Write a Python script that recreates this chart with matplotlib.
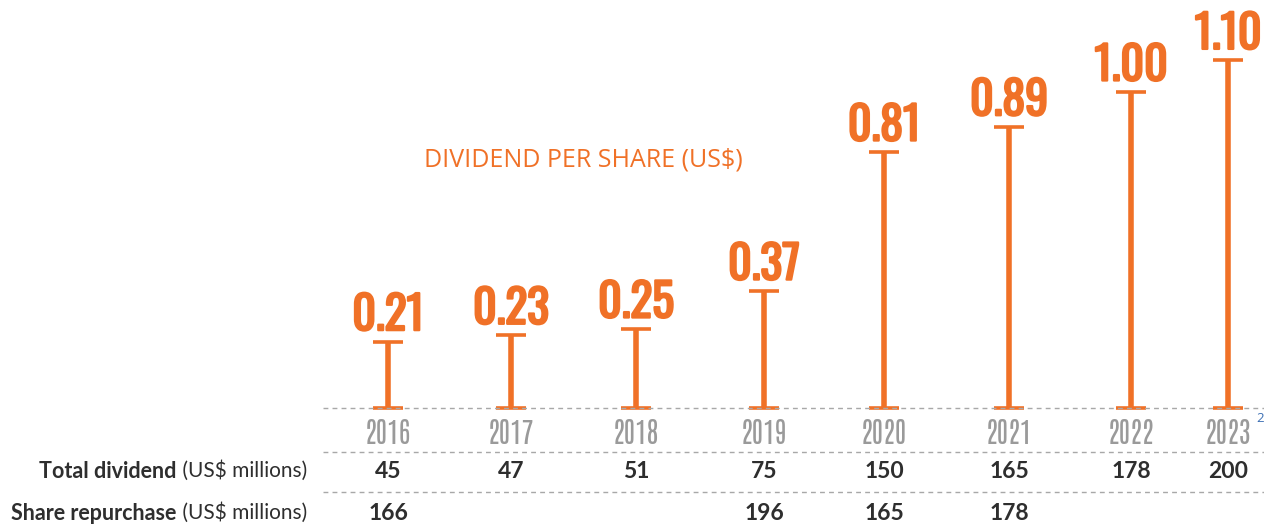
import matplotlib
matplotlib.use("Agg")
import matplotlib.pyplot as plt
import matplotlib.patheffects as pe

# Data
years = ["2016", "2017", "2018", "2019", "2020", "2021", "2022", "2023"]
dividend_per_share = [0.21, 0.23, 0.25, 0.37, 0.81, 0.89, 1.00, 1.10]
total_dividend = ["45", "47", "51", "75", "150", "165", "178", "200"]
share_repurchase = ["166", "", "", "196", "165", "178", "", ""]

# Layout (pixel columns and rows on a 1264 x 526 canvas)
W, H = 1264, 526
col_x = [388, 511, 636, 764, 884, 1009, 1131, 1228]
baseline_px = 408          # from top
px_per_unit = 316

ORANGE = "#F07127"
GRAY_LINE = "#A8A8A8"
YEAR_GRAY = "#9A9A9A"
DARK = "#2E2E2E"

fig = plt.figure(figsize=(W / 100, H / 100), dpi=100)
ax = fig.add_axes([0, 0, 1, 1])
ax.set_xlim(0, W)
base_from_bottom = H - baseline_px
ax.set_ylim(-base_from_bottom / px_per_unit, baseline_px / px_per_unit)
ax.axis("off")

# Bars drawn as capped vertical lines
ax.errorbar(col_x, [v / 2 for v in dividend_per_share],
            yerr=[v / 2 for v in dividend_per_share], fmt="none",
            ecolor=ORANGE, elinewidth=4.0, capsize=11, capthick=2.6, zorder=3)

num_font = dict(family=["Oswald", "DejaVu Sans"])
bold_fx = [pe.withStroke(linewidth=1.6, foreground=ORANGE)]
for x, v in zip(col_x, dividend_per_share):
    ax.annotate(f"{v:.2f}", (x, v), xytext=(0, 2.5), textcoords="offset points",
                ha="center", va="bottom", fontsize=33, color=ORANGE,
                path_effects=bold_fx, **num_font)

# Title
ax.text(583, (H - 160) / px_per_unit - base_from_bottom / px_per_unit,
        "DIVIDEND PER SHARE (US$)", ha="center", va="center",
        fontsize=18, color=ORANGE, family="Open Sans")

# Table below the chart, in pixel coordinates measured from the top
def fy(py):
    return 1 - py / H

def fx(px):
    return px / W

for py in (408, 452, 492):
    fig.add_artist(plt.Line2D([fx(323), 1], [fy(py), fy(py)],
                              color=GRAY_LINE, lw=1.0, ls=(0, (3.5, 3)),
                              zorder=1))

for x, y in zip(col_x, years):
    fig.text(fx(x), fy(433), y, ha="center", va="center", fontsize=20,
             color=YEAR_GRAY, family=["Antonio", "DejaVu Sans"])
fig.text(fx(1256), fy(418), "2", ha="left", va="center", fontsize=9.5,
         color="#3C6FB4", family="Open Sans")

row_font = dict(family="Lato", fontsize=16.5, color=DARK)
for x, v in zip(col_x, total_dividend):
    fig.text(fx(x), fy(472), v, ha="center", va="center",
             fontweight="bold", **row_font)
for x, v in zip(col_x, share_repurchase):
    if v:
        fig.text(fx(x), fy(513), v, ha="center", va="center",
                 fontweight="bold", **row_font)

def row_label(py, bold):
    t = fig.text(fx(307), fy(py), " (US$ millions)", ha="right", va="center",
                 family="Lato", fontsize=15, color=DARK)
    fig.canvas.draw()
    bb = t.get_window_extent()
    fig.text(bb.x0 / W, fy(py), bold, ha="right", va="center",
             family="Lato", fontsize=15.5, fontweight="bold", color=DARK)

row_label(471, "Total dividend")
row_label(513, "Share repurchase")

fig.savefig("out.png", dpi=100, facecolor="white")
